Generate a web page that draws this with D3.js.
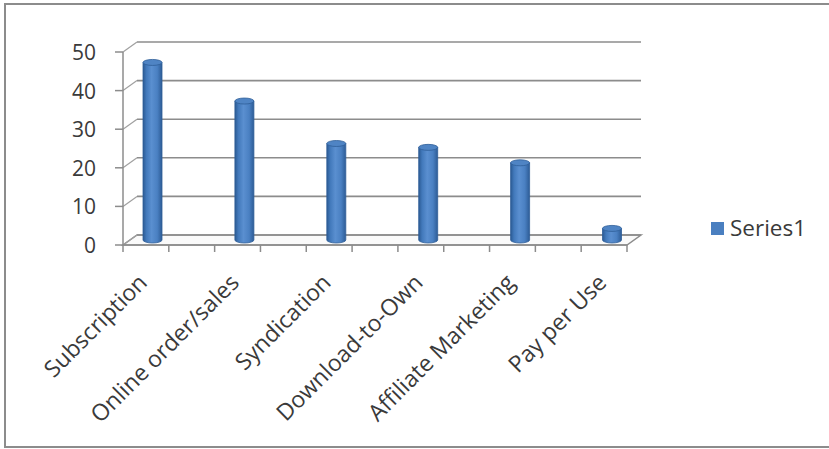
<!DOCTYPE html>
<html>
<head>
<meta charset="utf-8">
<script src="https://cdn.jsdelivr.net/npm/d3@7"></script>
<style>
  body { margin: 0; background: #fff; }
  svg { display: block; }
  text { font-family: "Open Sans", Lato, sans-serif; fill: #3a3a3a; }
</style>
</head>
<body>
<svg id="chart" width="829" height="449"></svg>
<script>
// chart data
var categories = ["Subscription", "Online order/sales", "Syndication", "Download-to-Own", "Affiliate Marketing", "Pay per Use"];
var values = [46, 36, 25, 24, 20, 3];
var yTicks = [0, 10, 20, 30, 40, 50];
var seriesName = "Series1";

var width = 829,
    height = 449;

// 3d depth offset of the back wall (and half of it for the bars)
var depth = {dx: 14, dy: -10};

var svg = d3.select("#chart");

// outer frame
svg.append("rect")
    .attr("x", 5).attr("y", 4)
    .attr("width", 840).attr("height", 443)
    .attr("fill", "none")
    .attr("stroke", "#8c8c8c")
    .attr("stroke-width", 2);

var y = d3.scaleLinear().domain([0, 50]).range([245, 52]);
var xFloor = d3.scaleLinear().domain([0, 11]).range([123, 627]);
var xBar = d3.scalePoint().domain(categories).range([152.5, 612]);

var defs = svg.append("defs");
var grad = defs.append("linearGradient").attr("id", "cyl")
    .attr("x1", "0%").attr("x2", "100%").attr("y1", "0%").attr("y2", "0%");
[["0%", "#2b5a93"], ["18%", "#4279bb"], ["45%", "#5a8fd0"], ["75%", "#4a80c2"], ["100%", "#2d5c96"]]
    .forEach(function(s) {
        grad.append("stop").attr("offset", s[0]).attr("stop-color", s[1]);
    });

// floor
var x0 = xFloor(0), x1 = xFloor(11);
svg.append("path")
    .attr("d", "M" + x0 + "," + y(0) + "L" + x1 + "," + y(0) +
        "L" + (x1 + depth.dx) + "," + (y(0) + depth.dy) +
        "L" + (x0 + depth.dx) + "," + (y(0) + depth.dy) + "Z")
    .attr("fill", "#fafafa")
    .attr("stroke", "#8c8c8c")
    .attr("stroke-width", 1.5);

// back wall gridlines
svg.selectAll("line.grid")
    .data(yTicks).enter()
    .append("line")
    .attr("class", "grid")
    .attr("x1", x0 + depth.dx)
    .attr("x2", x1 + depth.dx)
    .attr("y1", function(d) { return y(d) + depth.dy; })
    .attr("y2", function(d) { return y(d) + depth.dy; })
    .attr("stroke", "#8c8c8c")
    .attr("stroke-width", 1.6);

// side wall diagonals
svg.selectAll("line.diag")
    .data(yTicks).enter()
    .append("line")
    .attr("class", "diag")
    .attr("x1", x0)
    .attr("x2", x0 + depth.dx)
    .attr("y1", function(d) { return y(d); })
    .attr("y2", function(d) { return y(d) + depth.dy; })
    .attr("stroke", "#a0a0a0")
    .attr("stroke-width", 1.2);

// value axis
svg.append("line")
    .attr("x1", x0).attr("x2", x0)
    .attr("y1", y(50)).attr("y2", y(0))
    .attr("stroke", "#8c8c8c").attr("stroke-width", 1.5);

svg.selectAll("line.ytick")
    .data(yTicks).enter()
    .append("line")
    .attr("class", "ytick")
    .attr("x1", x0 - 8).attr("x2", x0)
    .attr("y1", function(d) { return y(d); })
    .attr("y2", function(d) { return y(d); })
    .attr("stroke", "#8c8c8c").attr("stroke-width", 1.5);

svg.selectAll("text.ylab")
    .data(yTicks).enter()
    .append("text")
    .attr("class", "ylab")
    .attr("x", x0 - 27)
    .attr("y", function(d) { return y(d) + 8; })
    .attr("text-anchor", "end")
    .style("font-size", "21px")
    .text(function(d) { return d; });

// category axis ticks
svg.append("line")
    .attr("x1", x0).attr("x2", x1)
    .attr("y1", y(0)).attr("y2", y(0))
    .attr("stroke", "#8c8c8c").attr("stroke-width", 1.5);

svg.selectAll("line.xtick")
    .data(d3.range(12)).enter()
    .append("line")
    .attr("class", "xtick")
    .attr("x1", function(d) { return xFloor(d); })
    .attr("x2", function(d) { return xFloor(d); })
    .attr("y1", y(0)).attr("y2", y(0) + 7)
    .attr("stroke", "#8c8c8c").attr("stroke-width", 1.5);

// cylinders, standing half way into the depth
var barW = 19, ry = 3;
var bars = svg.selectAll("g.bar")
    .data(categories).enter()
    .append("g")
    .attr("class", "bar")
    .attr("transform", function(d) {
        return "translate(" + xBar(d) + "," + (depth.dy / 2) + ")";
    });

bars.append("path")
    .attr("d", function(d, i) {
        var top = y(values[i]), bot = y(0);
        var r = barW / 2;
        return "M" + (-r) + "," + top + "L" + (-r) + "," + bot +
            "A" + r + "," + ry + " 0 0 0 " + r + "," + bot +
            "L" + r + "," + top + "Z";
    })
    .attr("fill", "url(#cyl)")
    .attr("stroke", "#2f5e98")
    .attr("stroke-width", 0.8);

bars.append("ellipse")
    .attr("cx", 0)
    .attr("cy", function(d, i) { return y(values[i]); })
    .attr("rx", barW / 2)
    .attr("ry", ry)
    .attr("fill", "#4f84c4")
    .attr("stroke", "#2f5e98")
    .attr("stroke-width", 0.8);

// category labels
svg.selectAll("text.xlab")
    .data(categories).enter()
    .append("text")
    .attr("class", "xlab")
    .attr("text-anchor", "end")
    .attr("transform", function(d) {
        return "translate(" + (xBar(d) - 4) + "," + 284 + ") rotate(-45)";
    })
    .style("font-size", "23px")
    .text(function(d) { return d; });

// legend
var legend = svg.append("g").attr("transform", "translate(711,222)");
legend.append("rect")
    .attr("width", 13).attr("height", 13)
    .attr("fill", "#4a7fc0");
legend.append("text")
    .attr("x", 19).attr("y", 14)
    .style("font-size", "22.5px")
    .text(seriesName);
</script>
</body>
</html>
